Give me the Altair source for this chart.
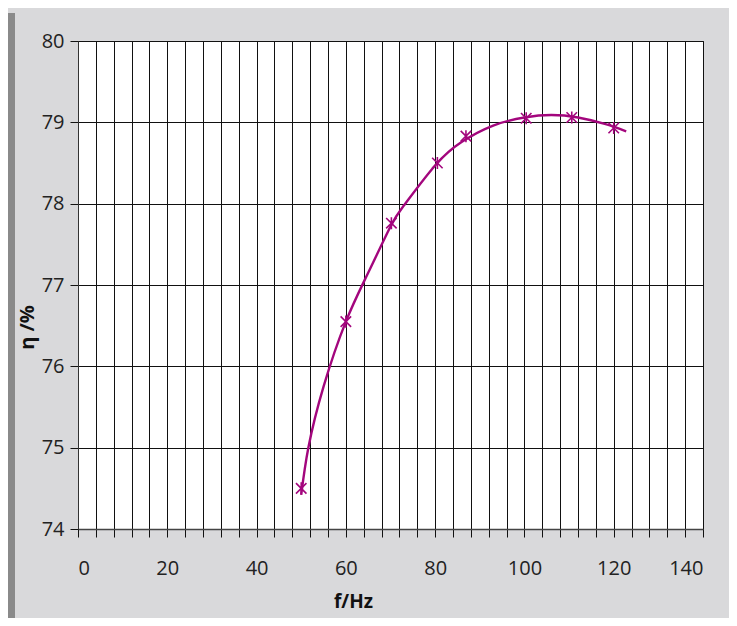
import altair as alt
import pandas as pd

# measured points (f in Hz, efficiency in %)
meas_f = [50.0, 60.0, 70.2, 80.5, 86.9, 100.4, 110.6, 120.0]
meas_eta = [74.50, 76.55, 77.76, 78.50, 78.83, 79.05, 79.06, 78.93]

# fitted curve
curve_f = [50.0, 51.6, 55, 60, 65, 70, 73.3, 80, 86, 93, 100, 106, 112, 118, 122.8]
curve_eta = [74.42, 75.0, 75.75, 76.55, 77.15, 77.72, 78.0, 78.47, 78.76, 78.96,
             79.06, 79.09, 79.06, 78.98, 78.89]

x_ticks = list(range(0, 141, 4))
y_ticks = [74, 75, 76, 77, 78, 79, 80]

df_meas = pd.DataFrame({"f": meas_f, "eta": meas_eta})
df_curve = pd.DataFrame({"f": curve_f, "eta": curve_eta})

FONT = "Open Sans"
COLOR = "#a3067d"

x_enc = alt.X(
    "f:Q",
    scale=alt.Scale(domain=[0, 140], nice=False, zero=False),
    axis=alt.Axis(
        values=x_ticks, tickCount=100, format="d",
        labelExpr="datum.value % 20 === 0 ? datum.label : ''",
        labelOverlap=False,
        title="f/Hz",
        titleFont=FONT, titleFontSize=19, titleFontWeight="bold", titleColor="#111",
        titleX=275, titleY=78, titleBaseline="alphabetic", titleAlign="center",
        labelFont=FONT, labelFontSize=20, labelColor="#222", labelPadding=21,
        tickSize=8, tickColor="#111", tickWidth=1,
        grid=True, gridColor="#111", gridWidth=1, gridOpacity=1,
        domainColor="#444", domainWidth=1.5,
    ),
)
y_enc = alt.Y(
    "eta:Q",
    scale=alt.Scale(domain=[74, 80], nice=False, zero=False),
    axis=alt.Axis(
        values=y_ticks, tickCount=20, format="d",
        title="η /%",
        titleFont=FONT, titleFontSize=20, titleFontWeight="bold", titleColor="#111",
        titleX=-45, titleY=286, titleBaseline="alphabetic", titleAlign="center", titleAngle=270,
        labelFont=FONT, labelFontSize=20, labelColor="#222", labelPadding=6,
        tickSize=8, tickColor="#111", tickWidth=1,
        grid=True, gridColor="#111", gridWidth=1, gridOpacity=1,
        domainColor="#333", domainWidth=1,
    ),
)

shadow = alt.Chart(pd.DataFrame({"a": [0]})).mark_rule(
    color="#8a8a8a", strokeWidth=7
).encode(x=alt.value(-66.5), y=alt.value(-28), y2=alt.value(590))

line = alt.Chart(df_curve).mark_line(
    color=COLOR, strokeWidth=2.4, interpolate="natural"
).encode(x=x_enc, y=y_enc)

pts = alt.Chart(df_meas).mark_point(
    shape="M-1,-1L1,1M-1,1L1,-1M0,-1.15L0,1.15",
    size=110, color=COLOR, strokeWidth=1.6, filled=False, opacity=1
).encode(x="f:Q", y="eta:Q")

chart = alt.layer(shadow, line, pts).properties(
    width=625, height=488,
    autosize=alt.AutoSizeParams(type="none"),
    padding={"left": 70, "top": 33, "right": 26, "bottom": 89},
    background="#d9d9db",
).configure_view(stroke="#111", strokeWidth=1, fill="white")

chart.save("out.html", embed_options={"renderer": "svg", "actions": False})
